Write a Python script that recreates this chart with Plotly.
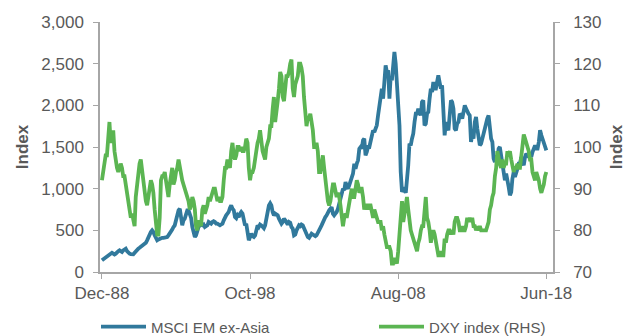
import pandas as pd
import plotly.graph_objects as go

# Monthly observations, Dec-88 .. Jun-18
msci_em_ex_asia = (
    [140]
    + [150, 160, 170, 180, 190, 200, 210, 230, 220, 210, 220, 240]
    + [250, 260, 250, 240, 260, 270, 280, 250, 230, 220, 215, 212]
    + [212, 230, 250, 270, 280, 290, 300, 310, 320, 340, 350, 380]
    + [420, 460, 480, 500, 480, 440, 400, 380, 390, 400, 405, 410]
    + [410, 415, 420, 420, 440, 460, 480, 510, 540, 560, 620, 700]
    + [740, 760, 650, 560, 620, 640, 690, 740, 740, 680, 650, 540]
    + [460, 420, 440, 500, 540, 560, 570, 560, 570, 540, 550, 560]
    + [600, 590, 580, 600, 610, 600, 580, 580, 570, 560, 570, 580]
    + [620, 660, 680, 700, 720, 770, 800, 760, 740, 660, 645, 680]
    + [660, 700, 720, 700, 640, 560, 580, 430, 380, 420, 460, 430]
    + [420, 440, 500, 560, 540, 570, 560, 530, 525, 560, 650, 760]
    + [800, 825, 800, 720, 680, 700, 690, 680, 640, 600, 580, 600]
    + [640, 620, 580, 570, 600, 590, 540, 520, 440, 450, 500, 540]
    + [560, 550, 570, 560, 520, 470, 430, 420, 410, 430, 460, 450]
    + [440, 430, 440, 480, 500, 530, 560, 600, 620, 660, 680, 720]
    + [740, 760, 780, 700, 680, 700, 720, 760, 820, 860, 920, 1000]
    + [980, 1080, 1020, 1000, 1040, 1080, 1140, 1180, 1300, 1240, 1300, 1340]
    + [1480, 1500, 1480, 1580, 1600, 1400, 1440, 1500, 1500, 1580, 1660, 1700]
    + [1680, 1720, 1760, 1880, 2000, 2060, 2200, 2080, 2300, 2480, 2400, 2420]
    + [2080, 2350, 2300, 2500, 2640, 2500, 2300, 2100, 1760, 1200, 960, 1000]
    + [1000, 950, 1080, 1280, 1540, 1520, 1600, 1660, 1800, 1900, 1900, 1960]
    + [1920, 1880, 2040, 2060, 1760, 1780, 1900, 1920, 2080, 2200, 2160, 2280]
    + [2200, 2200, 2280, 2360, 2280, 2200, 2240, 2000, 1640, 1800, 1760, 1700]
    + [1880, 2060, 2040, 1960, 1720, 1700, 1780, 1800, 1900, 1880, 1840, 1960]
    + [2000, 1960, 1920, 1900, 1880, 1560, 1640, 1600, 1800, 1860, 1720, 1640]
    + [1520, 1540, 1600, 1660, 1720, 1800, 1840, 1880, 1720, 1600, 1560, 1360]
    + [1320, 1400, 1340, 1480, 1500, 1400, 1320, 1200, 1100, 1180, 1120, 1020]
    + [920, 960, 1120, 1200, 1140, 1180, 1240, 1300, 1300, 1380, 1300, 1280]
    + [1380, 1420, 1400, 1420, 1420, 1380, 1440, 1480, 1520, 1480, 1480, 1560]
    + [1700, 1640, 1600, 1560, 1500, 1460]
)

dxy_index = (
    [92]
    + [94, 96, 98, 98, 103, 106, 101, 103, 104, 99, 96, 95]
    + [94, 95, 96, 95, 93, 93, 91, 88, 86, 84, 83, 84]
    + [82, 81, 88, 91, 92, 96, 97, 94, 91, 89, 87, 86]
    + [88, 90, 92, 91, 89, 85, 82, 79, 79, 83, 92, 93]
    + [93, 94, 92, 89, 88, 91, 94, 95, 91, 92, 94, 95]
    + [97, 95, 93, 92, 91, 90, 89, 88, 87, 85, 86, 88]
    + [87, 85, 81, 80, 82, 82, 81, 85, 86, 84, 85, 86]
    + [88, 87, 88, 89, 90, 90, 88, 87, 88, 87, 87, 88]
    + [92, 95, 95, 97, 96, 95, 99, 101, 98, 97, 98, 100]
    + [100, 99, 100, 99, 99, 100, 102, 101, 95, 92, 94, 94]
    + [95, 98, 99, 101, 102, 104, 101, 99, 98, 97, 100, 101]
    + [102, 105, 105, 109, 112, 106, 108, 111, 114, 118, 117, 112]
    + [111, 114, 117, 117, 118, 120, 121, 114, 112, 115, 116, 117]
    + [120, 120, 119, 117, 112, 108, 105, 107, 107, 108, 106, 104]
    + [100, 100, 101, 99, 94, 94, 96, 98, 95, 92, 90, 87]
    + [86, 87, 89, 91, 91, 89, 88, 89, 88, 86, 83, 81]
    + [83, 84, 83, 85, 86, 89, 90, 88, 88, 90, 92, 91]
    + [89, 90, 90, 88, 85, 86, 86, 85, 86, 86, 84, 83]
    + [85, 84, 83, 82, 82, 82, 80, 81, 79, 77, 76, 76]
    + [76, 75, 72, 72, 73, 73, 72, 75, 78, 83, 87, 82]
    + [84, 87, 88, 85, 82, 80, 79, 78, 77, 76, 75, 77]
    + [78, 80, 81, 81, 86, 88, 83, 82, 80, 77, 79, 80]
    + [79, 77, 76, 74, 74, 75, 74, 74, 78, 77, 79, 80]
    + [80, 79, 80, 79, 82, 83, 83, 82, 80, 80, 81, 80]
    + [80, 81, 83, 82, 83, 82, 83, 81, 81, 80, 81, 80]
    + [81, 80, 80, 80, 80, 80, 81, 82, 85, 86, 88, 89]
    + [93, 95, 99, 97, 96, 95, 97, 95, 96, 96, 99, 98]
    + [99, 97, 95, 94, 95, 95, 96, 95, 95, 98, 100, 103]
    + [102, 101, 100, 99, 97, 97, 94, 93, 92, 94, 93, 92]
    + [90, 89, 90, 91, 93, 94]
)

dates = pd.date_range("1988-12-01", periods=len(dxy_index), freq="MS")

tick_vals = ["1988-12-01", "1998-10-01", "2008-08-01", "2018-06-01"]
tick_text = ["Dec-88", "Oct-98", "Aug-08", "Jun-18"]

BLUE = "#31799C"
GREEN = "#5BB552"
GREY = "#595959"
AXIS = "#A6A6A6"
FONT = "Liberation Sans, Arial, sans-serif"
TS = 17

fig = go.Figure()
fig.add_trace(go.Scatter(x=dates, y=msci_em_ex_asia, name="MSCI EM ex-Asia",
                         mode="lines", line=dict(color=BLUE, width=3.8), yaxis="y",
                         legend="legend"))
fig.add_trace(go.Scatter(x=dates, y=dxy_index, name="DXY index (RHS)",
                         mode="lines", line=dict(color=GREEN, width=3.8), yaxis="y2",
                         legend="legend2"))

leg_common = dict(orientation="h", xref="container", yref="container",
                  xanchor="left", yanchor="middle", y=0.027,
                  font=dict(size=15, color=GREY), itemwidth=45,
                  bgcolor="rgba(0,0,0,0)")

fig.update_layout(
    width=630, height=336,
    margin=dict(l=100, r=77, t=22, b=64, autoexpand=False),
    paper_bgcolor="white", plot_bgcolor="white",
    font=dict(family=FONT, size=TS, color=GREY),
    showlegend=True,
    legend=dict(x=96 / 630, **leg_common),
    legend2=dict(x=374 / 630, **leg_common),
    xaxis=dict(type="date", range=["1988-10-15", "2018-11-10"],
               tickvals=tick_vals, ticktext=tick_text,
               showgrid=False, zeroline=False, showline=True, linecolor=AXIS, linewidth=1.5,
               ticks="outside", ticklen=5, tickcolor=AXIS,
               tickfont=dict(size=TS, color=GREY)),
    yaxis=dict(range=[0, 3000], tickvals=[0, 500, 1000, 1500, 2000, 2500, 3000],
               tickformat=",", showgrid=False, zeroline=False,
               showline=True, linecolor=AXIS, linewidth=1.5,
               ticks="outside", ticklen=5, tickcolor=AXIS, ticklabelstandoff=6,
               tickfont=dict(size=TS, color=GREY),
               title=dict(text="<b>Index</b>", font=dict(size=TS, color=GREY), standoff=8)),
    yaxis2=dict(range=[70, 130], tickvals=[70, 80, 90, 100, 110, 120, 130],
                overlaying="y", side="right", showgrid=False, zeroline=False,
                showline=True, linecolor=AXIS, linewidth=1.5,
                ticks="outside", ticklen=5, tickcolor=AXIS, ticklabelstandoff=10,
                tickfont=dict(size=TS, color=GREY),
                title=dict(text="<b>Index</b>", font=dict(size=TS, color=GREY), standoff=10)),
)

fig.write_html("out.html")
